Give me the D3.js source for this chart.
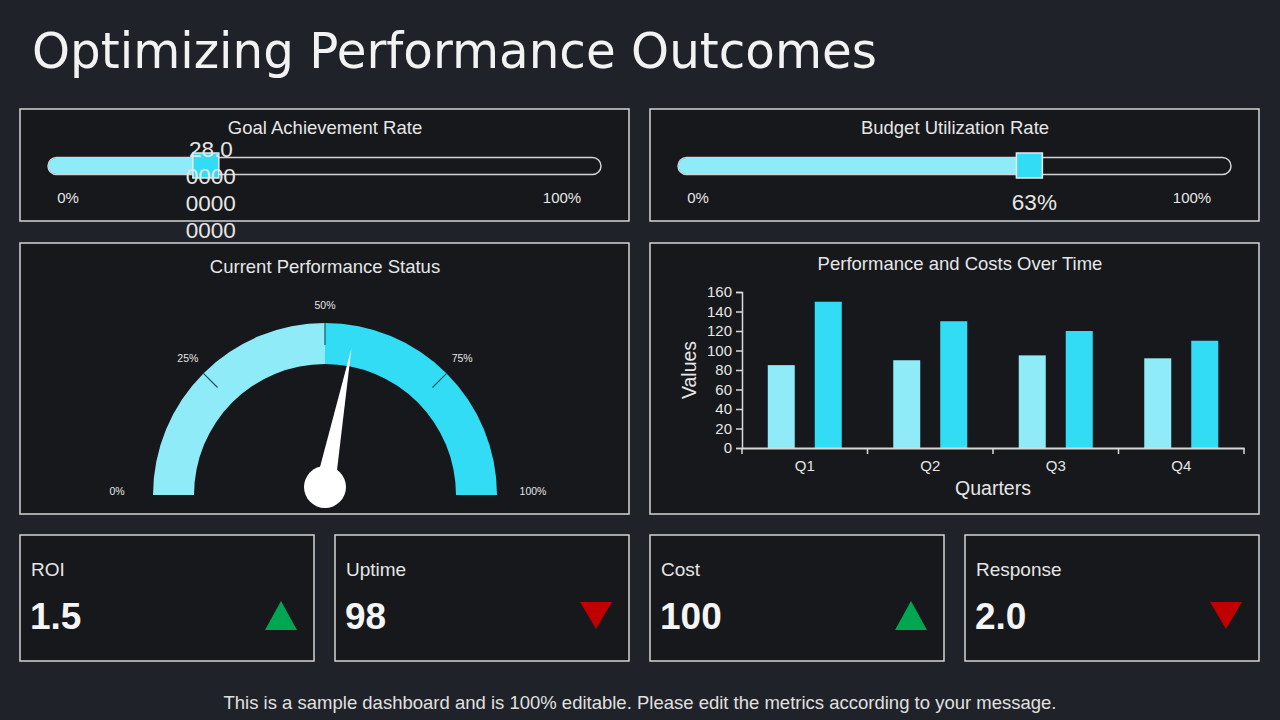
<!DOCTYPE html>
<html>
<head>
<meta charset="utf-8">
<script src="https://cdn.jsdelivr.net/npm/d3@7"></script>
<style>
  body { margin: 0; background: #1f2229; }
  svg { display: block; }
  text { font-family: "Liberation Sans", Arial, sans-serif; fill: #e6e6e6; }
</style>
</head>
<body>
<script>
// ---- data ----
const sliderTitles = ["Goal Achievement Rate", "Budget Utilization Rate"];
const sliderValues = [28, 63];
const sliderLabels = ["28.0000000000000", "63%"];

const gaugeTicks = [0, 25, 50, 75, 100];
const gaugeValue = 56;

const quarters = ["Q1", "Q2", "Q3", "Q4"];
const performance = [85, 90, 95, 92];
const costs = [150, 130, 120, 110];
const yTicks = [0, 20, 40, 60, 80, 100, 120, 140, 160];

const kpiNames = ["ROI", "Uptime", "Cost", "Response"];
const kpiValues = ["1.5", "98", "100", "2.0"];
const kpiTrend = ["up", "down", "up", "down"];

const light = "#8eebf7", cyan = "#33dcf5";
const panelFill = "#16181c", border = "#d4d4d4";

const svg = d3.select("body")
    .append("svg")
    .attr("width", 1280)
    .attr("height", 720);

svg.append("rect").attr("width", 1280).attr("height", 720).attr("fill", "#1f2229");

// title
svg.append("text")
    .attr("x", 32)
    .attr("y", 68)
    .attr("font-size", 50)
    .attr("textLength", 845)
    .attr("lengthAdjust", "spacingAndGlyphs")
    .style("font-family", "'Comic Sans MS', 'DejaVu Sans', sans-serif")
    .style("fill", "#f2f2f2")
    .text("Optimizing Performance Outcomes");

function panel(x, y, w, h) {
    svg.append("rect")
        .attr("x", x).attr("y", y).attr("width", w).attr("height", h)
        .attr("fill", panelFill).attr("stroke", border).attr("stroke-width", 1.5);
}

// ---- sliders ----
[20, 650].forEach((px, i) => {
    panel(px, 109, 609, 112);
    const g = svg.append("g").attr("transform", `translate(${px},0)`);
    g.append("text").attr("x", 305).attr("y", 134).attr("text-anchor", "middle")
        .attr("font-size", 18.5).text(sliderTitles[i]);

    const sx = d3.scaleLinear().domain([0, 100]).range([31, 584]);
    const hx = sx(sliderValues[i]);

    g.append("rect").attr("x", 28).attr("y", 157.5).attr("width", 553).attr("height", 17)
        .attr("rx", 8.5).attr("fill", panelFill).attr("stroke", border).attr("stroke-width", 1.5);
    g.append("rect").attr("x", 28.5).attr("y", 158).attr("width", hx - 28.5).attr("height", 16)
        .attr("rx", 8).attr("fill", light);
    g.append("rect").attr("x", hx - 13).attr("y", 153).attr("width", 26).attr("height", 25)
        .attr("fill", cyan).attr("stroke", "#e8e8e8").attr("stroke-width", 1.5);

    g.append("text").attr("x", 48).attr("y", 203).attr("text-anchor", "middle")
        .attr("font-size", 15).text("0%");
    g.append("text").attr("x", 542).attr("y", 203).attr("text-anchor", "middle")
        .attr("font-size", 15).text("100%");

    const lbl = sliderLabels[i];
    const lines = lbl.length > 6 ? lbl.match(/.{1,4}/g) : [lbl];
    const y0 = 210 - (lines.length - 1) * 53 / 3;
    const t = g.append("text").attr("text-anchor", "middle").attr("font-size", 22.5);
    lines.forEach((ln, k) => {
        t.append("tspan").attr("x", hx + 5).attr("y", y0 + k * 27).text(ln);
    });
});

// ---- gauge ----
panel(20, 243, 609, 271);
svg.append("text").attr("x", 325).attr("y", 273).attr("text-anchor", "middle")
    .attr("font-size", 18.5).text("Current Performance Status");

const gcx = 325, gcy = 495;
const ang = d3.scaleLinear().domain([0, 100]).range([-Math.PI / 2, Math.PI / 2]);
const gg = svg.append("g").attr("transform", `translate(${gcx},${gcy})`);
const arc = d3.arc().innerRadius(131).outerRadius(172);
gg.append("path").attr("d", arc({ startAngle: ang(0), endAngle: ang(50) })).attr("fill", light);
gg.append("path").attr("d", arc({ startAngle: ang(50), endAngle: ang(100) })).attr("fill", cyan);

[25, 50, 75].forEach(v => {
    const a = ang(v), r0 = v === 50 ? 150 : 152;
    gg.append("line").attr("class", "gtick")
        .attr("x1", Math.sin(a) * r0).attr("y1", -Math.cos(a) * r0)
        .attr("x2", Math.sin(a) * 172).attr("y2", -Math.cos(a) * 172)
        .attr("stroke", "#1d5661").attr("stroke-width", 1.2);
});

gaugeTicks.forEach(v => {
    const a = ang(v);
    const end = v === 0 || v === 100;
    const r = end ? 208 : v === 50 ? 190 : 194;
    gg.append("text")
        .attr("x", Math.sin(a) * r)
        .attr("y", -Math.cos(a) * r + (end ? -4 : 0))
        .attr("text-anchor", "middle").attr("dy", "0.35em")
        .attr("font-size", 10.5).text(v + "%");
});

const na = ang(gaugeValue);
const pivotY = -8, nLen = 141, nHalf = 10;
const tip = [Math.sin(na) * nLen, pivotY - Math.cos(na) * nLen];
const b1 = [Math.cos(na) * nHalf, pivotY + Math.sin(na) * nHalf];
const b2 = [-Math.cos(na) * nHalf, pivotY - Math.sin(na) * nHalf];
gg.append("path").attr("d", d3.line()([tip, b1, b2]) + "Z").attr("fill", "#ffffff");
gg.append("circle").attr("cx", 0).attr("cy", pivotY).attr("r", 21).attr("fill", "#ffffff");

// ---- bar chart ----
panel(650, 243, 609, 271);
svg.append("text").attr("x", 960).attr("y", 270).attr("text-anchor", "middle")
    .attr("font-size", 18.5).text("Performance and Costs Over Time");

const x0 = d3.scaleBand().domain(quarters).range([742, 1244]);
const x1 = d3.scaleBand().domain(["perf", "cost"]).range([0, x0.bandwidth()])
    .paddingInner(0.4255).paddingOuter(0.548);
const y = d3.scaleLinear().domain([0, 160]).range([448, 292]);

const bars = svg.append("g");
quarters.forEach((q, i) => {
    bars.append("rect").attr("x", x0(q) + x1("perf")).attr("y", y(performance[i]))
        .attr("width", x1.bandwidth()).attr("height", y(0) - y(performance[i])).attr("fill", light);
    bars.append("rect").attr("x", x0(q) + x1("cost")).attr("y", y(costs[i]))
        .attr("width", x1.bandwidth()).attr("height", y(0) - y(costs[i])).attr("fill", cyan);
});

const yAxis = svg.append("g").attr("class", "axis").attr("transform", "translate(742,0)")
    .call(d3.axisLeft(y).tickValues(yTicks).tickSize(6).tickPadding(4));
yAxis.selectAll("text").attr("font-size", 15).style("fill", "#e6e6e6");

const xAxis = svg.append("g").attr("class", "axis").attr("transform", "translate(0,448)")
    .call(d3.axisBottom(x0).tickSize(0).tickPadding(12));
xAxis.selectAll("text").attr("font-size", 15).style("fill", "#e6e6e6");
xAxis.selectAll(".edge").data(d3.range(quarters.length + 1)).enter().append("line")
    .attr("x1", i => 742 + i * x0.step()).attr("x2", i => 742 + i * x0.step())
    .attr("y1", 0).attr("y2", 6);

svg.selectAll(".axis .domain, .axis line").attr("stroke", "#d9d9d9").attr("stroke-width", 1.5);
xAxis.select(".domain").attr("stroke-width", 2);

svg.append("text").attr("transform", "translate(696,370) rotate(-90)")
    .attr("text-anchor", "middle").attr("font-size", 19.5).text("Values");
svg.append("text").attr("x", 993).attr("y", 495).attr("text-anchor", "middle")
    .attr("font-size", 19.5).text("Quarters");

// ---- KPI cards ----
kpiNames.forEach((name, i) => {
    const px = 20 + i * 315;
    panel(px, 535, 294, 126);
    svg.append("text").attr("x", px + 11).attr("y", 576).attr("font-size", 19).text(name);
    svg.append("text").attr("x", px + 10).attr("y", 629).attr("font-size", 37)
        .attr("font-weight", "bold").style("fill", "#f5f5f5").text(kpiValues[i]);
    const cx = px + 261;
    const up = kpiTrend[i] === "up";
    const pts = up
        ? [[cx, 601], [cx + 16, 630], [cx - 16, 630]]
        : [[cx - 16, 602], [cx + 16, 602], [cx, 629]];
    svg.append("path").attr("d", d3.line()(pts) + "Z")
        .attr("fill", up ? "#00a651" : "#c00000");
});

// footer
svg.append("text").attr("x", 640).attr("y", 709).attr("text-anchor", "middle")
    .attr("font-size", 18.5).style("fill", "#e0e0e0")
    .text("This is a sample dashboard and is 100% editable. Please edit the metrics according to your message.");
</script>
</body>
</html>
